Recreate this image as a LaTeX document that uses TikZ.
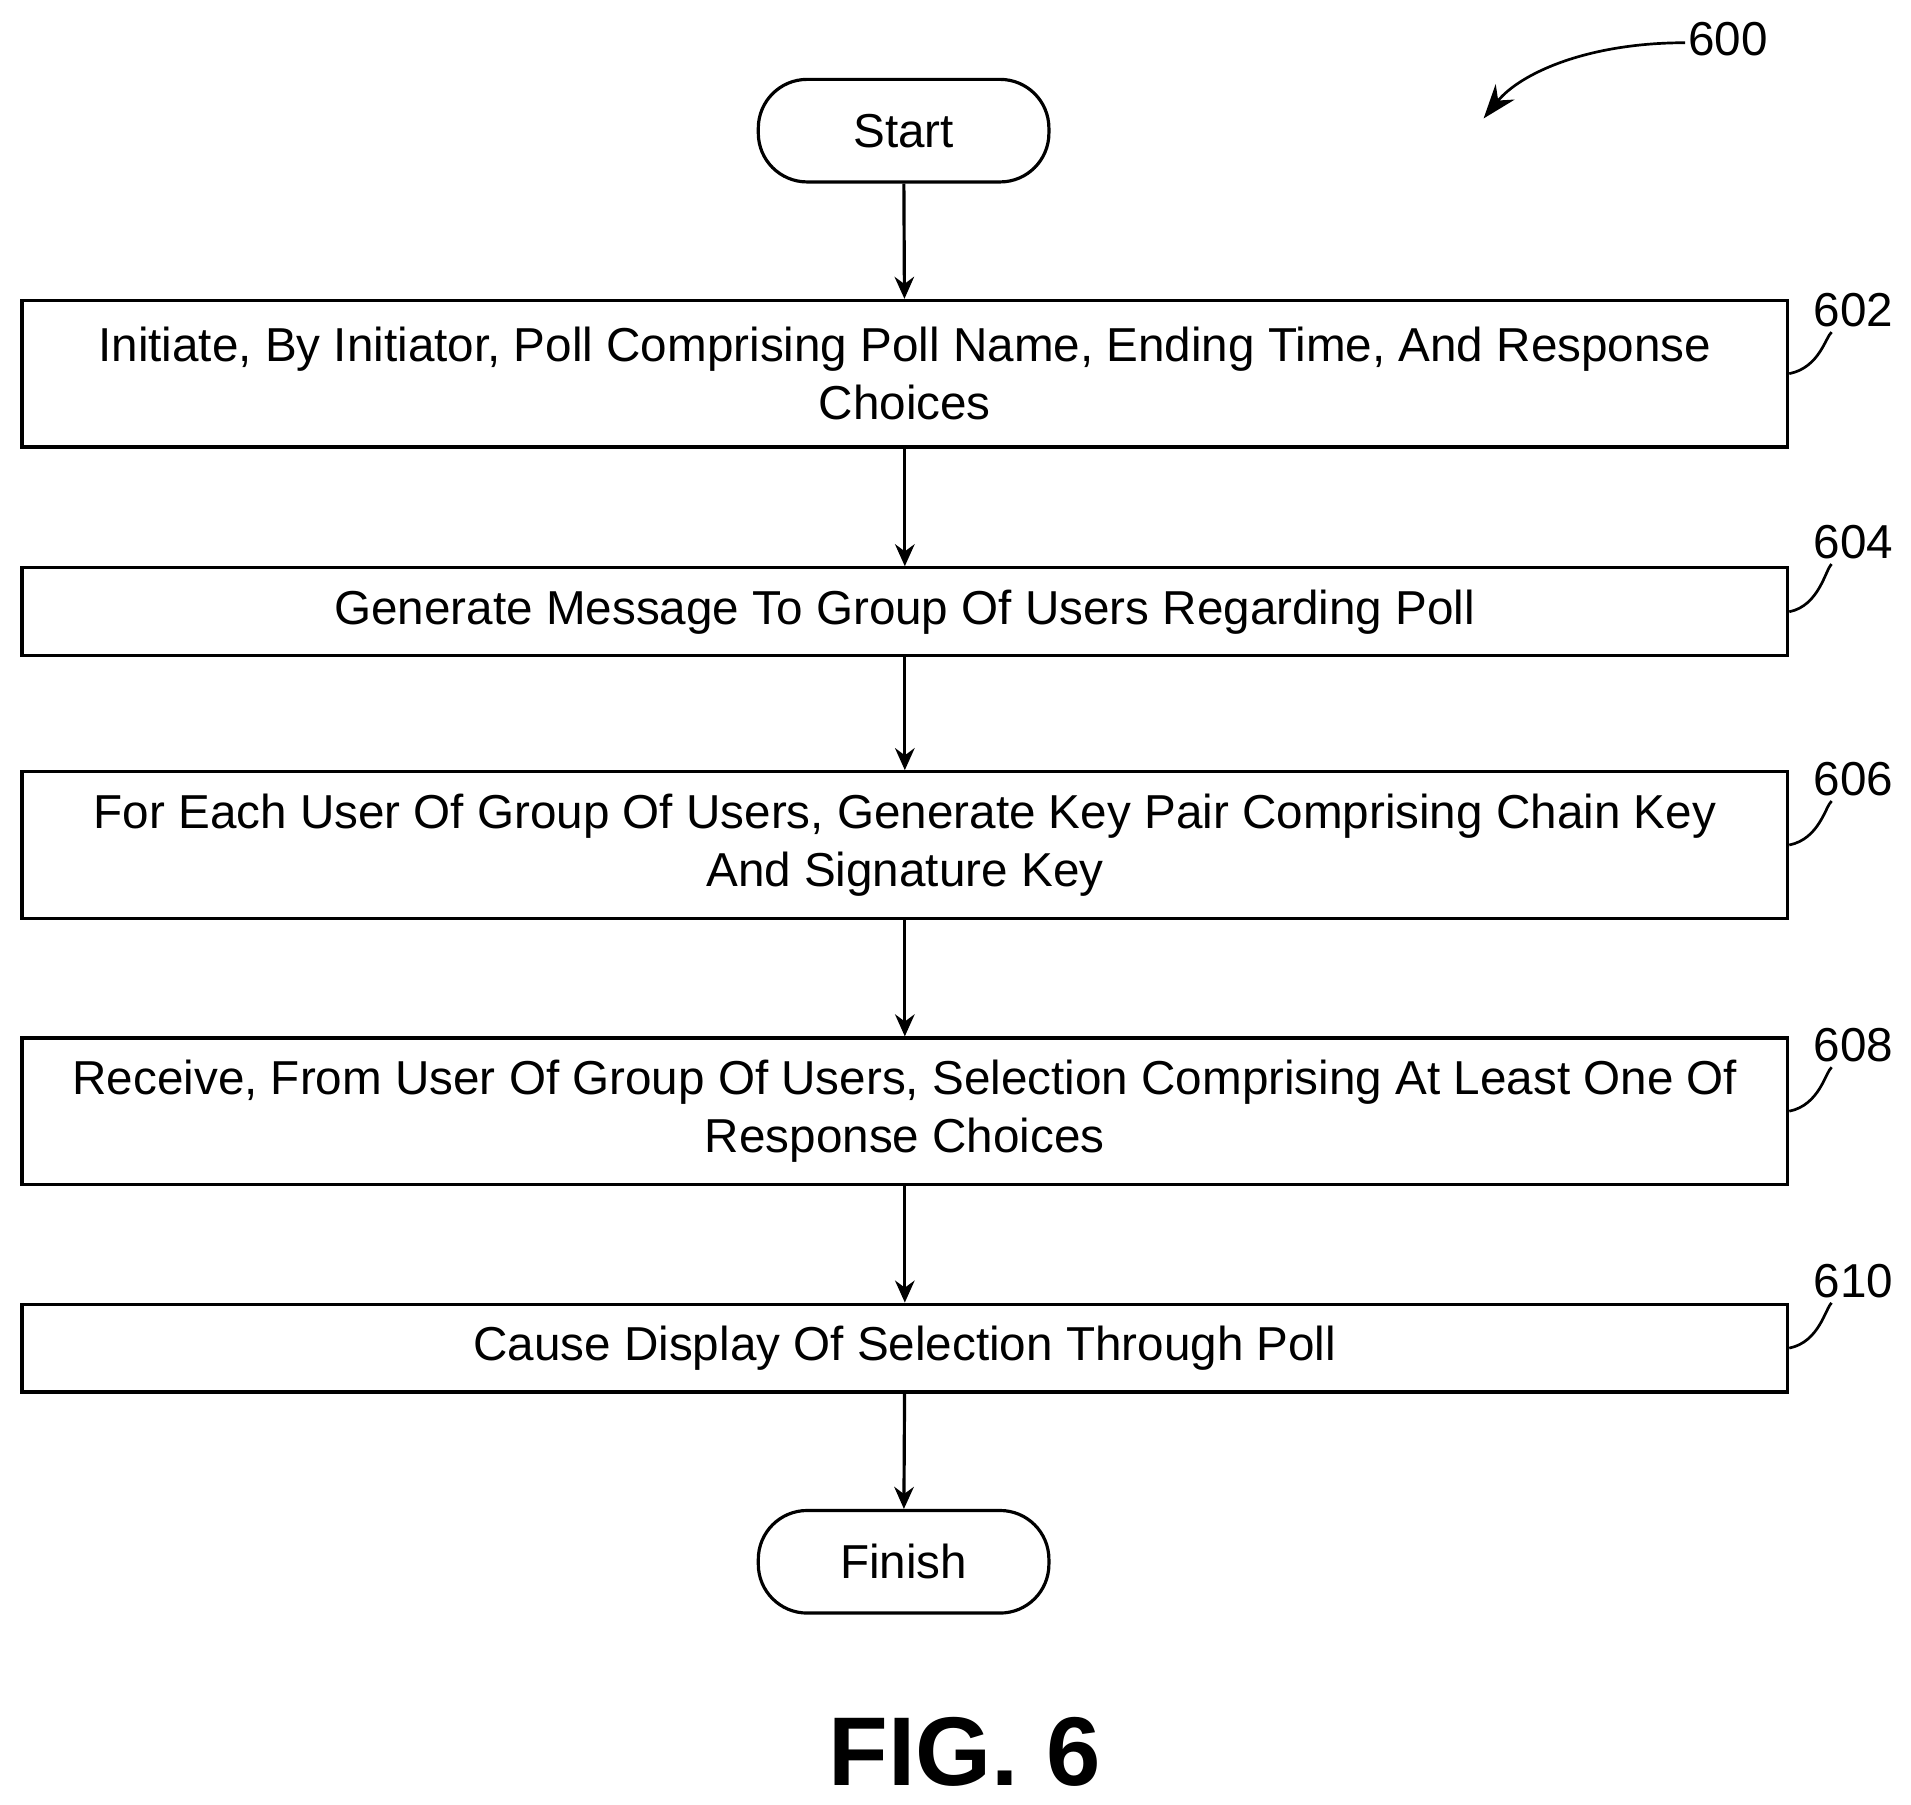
\documentclass[tikz,border=0pt]{standalone}
\usepackage{fontspec}
\setmainfont{Liberation Sans}
\usetikzlibrary{arrows.meta}
\begin{document}
\begin{tikzpicture}[x=0.5pt,y=-0.5pt,
  box/.style={draw,line width=1.3pt,inner sep=0pt,font=\fontsize{19.5}{24}\selectfont,align=center},
  term/.style={draw,line width=1.3pt,rounded corners=20pt,minimum width=119pt,minimum height=42pt,font=\fontsize{19.5}{24}\selectfont},
  arr/.style={line width=1.3pt,-{Stealth[length=9pt,width=8pt]}},
  lbl/.style={font=\fontsize{19.5}{24}\selectfont},
  lead/.style={line width=1.1pt}]
\useasboundingbox (0,0) rectangle (1565,1478);
\node[term] (s) at (740,107) {Start};
\node[box,minimum width=723pt,minimum height=60pt] (b602) at (741,306) {Initiate, By Initiator, Poll Comprising Poll Name, Ending Time, And Response\\Choices};
\node[box,minimum width=723pt,minimum height=36pt] (b604) at (741,501) {Generate Message To Group Of Users Regarding Poll};
\node[box,minimum width=723pt,minimum height=60pt] (b606) at (741,692) {For Each User Of Group Of Users, Generate Key Pair Comprising Chain Key\\And Signature Key};
\node[box,minimum width=723pt,minimum height=60pt] (b608) at (741,910) {Receive, From User Of Group Of Users, Selection Comprising At Least One Of\\Response Choices};
\node[box,minimum width=723pt,minimum height=36pt] (b610) at (741,1104) {Cause Display Of Selection Through Poll};
\node[term] (f) at (740,1279) {Finish};
\draw[arr] (s) -- (b602);
\draw[arr] (b602) -- (b604);
\draw[arr] (b604) -- (b606);
\draw[arr] (b606) -- (b608);
\draw[arr] (b608) -- (b610);
\draw[arr] (b610) -- (f);
\foreach \n/\y/\ly in {602/306/254,604/501/444,606/692/638,608/910/856,610/1104/1049}{
  \node[lbl] (l\n) at (1518,\ly) {\n};
  \draw[lead] (b\n.east |- 0,\y) .. controls (1490,\y-5) and (1495,\ly+22) .. (1500,\ly+18);
}
\node[lbl] (l600) at (1415,32) {600};
\coordinate (c600) at (1380,35);
\draw[line width=1.1pt,-{Stealth[length=14pt,width=10pt]}] (c600) .. controls (1300,35) and (1245,60) .. (1215,97);
\node[font=\fontsize{40}{48}\bfseries\selectfont] (fig) at (790,1435) {FIG. 6};
\end{tikzpicture}
\end{document}
